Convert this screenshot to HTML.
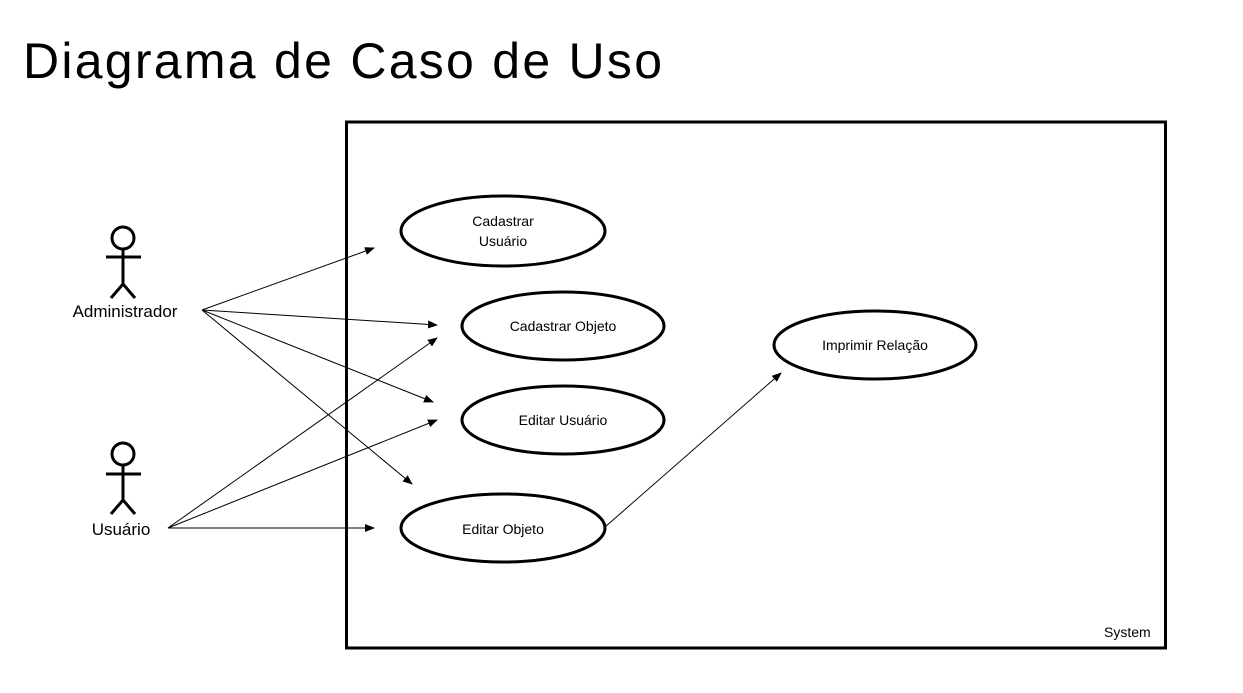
<!DOCTYPE html>
<html><head><meta charset="utf-8"><style>
body{margin:0;background:#fff;}
svg{display:block;font-family:"Liberation Sans",sans-serif;}
</style></head><body>
<svg width="1243" height="693" viewBox="0 0 1243 693">
<defs><marker id="a" markerWidth="10" markerHeight="8" refX="9" refY="4" orient="auto" markerUnits="userSpaceOnUse"><path d="M0,0 L10,4 L0,8 z" fill="#000"/></marker></defs>
<text x="23" y="78" font-size="50" fill="#000" textLength="639" lengthAdjust="spacing">Diagrama de Caso de Uso</text>
<rect x="346.5" y="122" width="819" height="526" fill="none" stroke="#000" stroke-width="3"/>
<text x="1104" y="637" font-size="14">System</text>
<g fill="none" stroke="#000" stroke-width="3">
<ellipse cx="503" cy="231" rx="102" ry="35"/>
<ellipse cx="563" cy="326" rx="101" ry="34"/>
<ellipse cx="563" cy="420" rx="101" ry="34"/>
<ellipse cx="503" cy="528" rx="102" ry="34"/>
<ellipse cx="875" cy="345" rx="101" ry="34"/>
<circle cx="123" cy="238" r="11"/><line x1="106" y1="257" x2="141" y2="257"/><line x1="123" y1="249" x2="123" y2="284"/><polyline points="111,298 123,284 135,298"/>
<circle cx="123" cy="454" r="11"/><line x1="106" y1="474" x2="141" y2="474"/><line x1="123" y1="465" x2="123" y2="500"/><polyline points="111,514 123,500 135,514"/>
</g>
<g stroke="#000" stroke-width="1" marker-end="url(#a)">
<line x1="202" y1="310" x2="374" y2="248"/>
<line x1="202" y1="310" x2="437" y2="325"/>
<line x1="202" y1="310" x2="433" y2="402"/>
<line x1="202" y1="310" x2="412" y2="484"/>
<line x1="168" y1="528" x2="437" y2="338"/>
<line x1="168" y1="528" x2="437" y2="420"/>
<line x1="168" y1="528" x2="374" y2="528"/>
<line x1="605" y1="527" x2="781" y2="373"/>
</g>
<g font-size="14" text-anchor="middle">
<text x="503" y="226">Cadastrar</text><text x="503" y="246">Usuário</text>
<text x="563" y="331">Cadastrar Objeto</text>
<text x="563" y="425">Editar Usuário</text>
<text x="503" y="534">Editar Objeto</text>
<text x="875" y="350">Imprimir Relação</text>
<text x="125" y="317" font-size="17">Administrador</text>
<text x="121" y="535" font-size="17">Usuário</text>
</g>
</svg>
</body></html>
